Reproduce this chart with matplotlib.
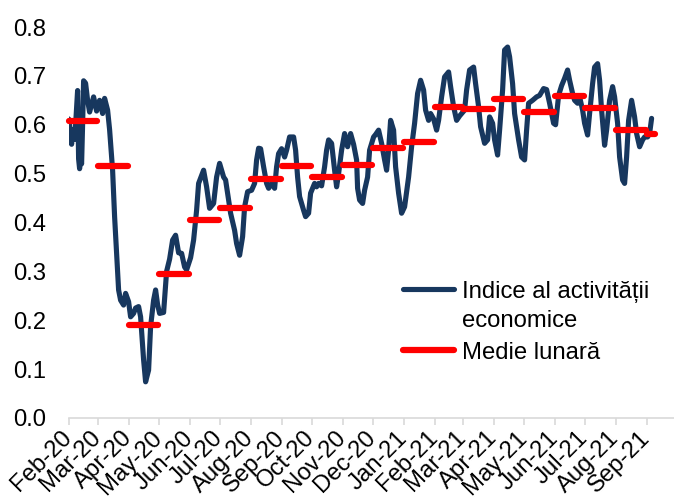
import matplotlib
matplotlib.use("Agg")
import matplotlib.pyplot as plt
import pandas as pd
from matplotlib.legend_handler import HandlerLine2D

plt.rcParams['font.family'] = ['Liberation Sans', 'DejaVu Sans']

# ---- data ----
start_date = "2020-02-01"
day_offsets = [0, 1, 3, 4, 6, 7, 9, 10, 11, 12, 13, 14, 15, 17, 19, 21, 25, 28, 31, 34,
               36, 39, 41, 44, 46, 48, 50, 52, 55, 57, 60, 62, 65, 67, 70, 72, 75, 77, 80, 82,
               85, 87, 89, 91, 95, 98, 101, 104, 107, 110, 113, 116, 118, 122, 125, 128, 130, 135, 138, 141,
               145, 148, 151, 155, 157, 160, 162, 166, 168, 171, 174, 176, 179, 183, 186, 188, 190, 192, 195, 198,
               200, 203, 206, 208, 210, 213, 216, 218, 221, 225, 227, 229, 231, 235, 237, 240, 242, 246, 248, 250,
               253, 256, 258, 260, 263, 266, 268, 270, 273, 276, 279, 282, 285, 288, 289, 291, 294, 296, 299, 301,
               305, 307, 310, 313, 316, 318, 320, 322, 325, 327, 330, 333, 336, 340, 343, 346, 349, 352, 355, 357,
               360, 362, 365, 368, 370, 373, 376, 380, 382, 385, 388, 391, 396, 398, 401, 405, 407, 410, 412, 416,
               419, 421, 424, 426, 429, 431, 434, 436, 439, 441, 444, 446, 450, 453, 456, 458, 460, 464, 468, 471,
               475, 478, 481, 485, 487, 490, 493, 496, 499, 501, 504, 506, 509, 511, 514, 516, 519, 521, 524, 526,
               529, 531, 533, 536, 538, 541, 544, 546, 549, 551, 554, 556, 558, 560, 563, 566, 568, 571, 574, 576,
               579, 581, 583]
activity = [0.612, 0.600, 0.560, 0.590, 0.570, 0.600, 0.670, 0.530, 0.510, 0.530, 0.520, 0.600, 0.690, 0.685, 0.650, 0.626, 0.657, 0.628, 0.650, 0.623,
            0.654, 0.630, 0.590, 0.507, 0.412, 0.337, 0.262, 0.241, 0.231, 0.255, 0.238, 0.207, 0.214, 0.225, 0.228, 0.207, 0.119, 0.074, 0.098, 0.187,
            0.241, 0.262, 0.232, 0.214, 0.216, 0.300, 0.325, 0.364, 0.374, 0.338, 0.337, 0.309, 0.303, 0.328, 0.364, 0.425, 0.480, 0.507, 0.473, 0.429,
            0.439, 0.493, 0.521, 0.493, 0.487, 0.446, 0.419, 0.384, 0.357, 0.333, 0.371, 0.432, 0.463, 0.466, 0.480, 0.528, 0.552, 0.551, 0.514, 0.480,
            0.470, 0.480, 0.470, 0.514, 0.541, 0.551, 0.534, 0.548, 0.575, 0.575, 0.548, 0.493, 0.453, 0.425, 0.412, 0.419, 0.460, 0.480, 0.473, 0.480,
            0.475, 0.514, 0.548, 0.569, 0.562, 0.507, 0.473, 0.500, 0.548, 0.582, 0.555, 0.582, 0.560, 0.528, 0.470, 0.446, 0.439, 0.466, 0.493, 0.548,
            0.575, 0.580, 0.589, 0.562, 0.528, 0.507, 0.548, 0.609, 0.589, 0.514, 0.460, 0.419, 0.432, 0.493, 0.555, 0.603, 0.664, 0.691, 0.671, 0.630,
            0.609, 0.623, 0.612, 0.589, 0.609, 0.657, 0.698, 0.708, 0.678, 0.637, 0.609, 0.618, 0.630, 0.671, 0.712, 0.718, 0.684, 0.637, 0.596, 0.562,
            0.569, 0.616, 0.603, 0.569, 0.538, 0.589, 0.671, 0.753, 0.759, 0.739, 0.684, 0.623, 0.569, 0.534, 0.528, 0.589, 0.644, 0.650, 0.657, 0.660,
            0.674, 0.672, 0.644, 0.603, 0.600, 0.660, 0.680, 0.695, 0.712, 0.691, 0.664, 0.650, 0.644, 0.657, 0.630, 0.603, 0.579, 0.623, 0.684, 0.718,
            0.725, 0.691, 0.630, 0.558, 0.589, 0.650, 0.678, 0.657, 0.603, 0.534, 0.487, 0.480, 0.534, 0.609, 0.650, 0.616, 0.582, 0.555, 0.569, 0.575,
            0.575, 0.582, 0.613]

month_labels = ['Feb-20', 'Mar-20', 'Apr-20', 'May-20', 'Jun-20', 'Jul-20', 'Aug-20', 'Sep-20',
                'Oct-20', 'Nov-20', 'Dec-20', 'Jan-21', 'Feb-21', 'Mar-21', 'Apr-21', 'May-21',
                'Jun-21', 'Jul-21', 'Aug-21', 'Sep-21']
monthly_mean = [0.607, 0.515, 0.190, 0.294, 0.405, 0.429, 0.489, 0.515, 0.493, 0.518,
                0.553, 0.565, 0.637, 0.633, 0.652, 0.627, 0.658, 0.635, 0.589, 0.582]
mean_last_date = "2021-09-09"
axis_end = "2021-10-01"

y_ticks = [0.0, 0.1, 0.2, 0.3, 0.4, 0.5, 0.6, 0.7, 0.8]
label_line = "Indice al activității\neconomice"
label_mean = "Medie lunară"

FS = 17.2


class HandlerFirstLine(HandlerLine2D):
    """Align the legend line with the first text line of a two-line label."""
    def __init__(self, shift, **kw):
        super().__init__(**kw)
        self.shift = shift

    def create_artists(self, legend, orig_handle, xdescent, ydescent, width,
                       height, fontsize, trans):
        arts = super().create_artists(legend, orig_handle, xdescent, ydescent,
                                      width, height, fontsize, trans)
        for a in arts:
            y = a.get_ydata()
            a.set_ydata([yy + self.shift for yy in y])
        return arts


# ---- figure ----
W, H = 674, 501
fig = plt.figure(figsize=(W / 100, H / 100), dpi=100)
left_px, right_px, top_px, bottom_px = 68.6, 676.6, 27, 418
ax = fig.add_axes([left_px / W, 1 - bottom_px / H, (right_px - left_px) / W, (bottom_px - top_px) / H])

base = pd.Timestamp(start_date)
dates = base + pd.to_timedelta(day_offsets, unit='D')
navy = '#17375E'
red = '#FF0000'

ln, = ax.plot(dates, activity, color=navy, lw=3.7, solid_joinstyle='round',
              solid_capstyle='round', label=label_line, zorder=2)

month_starts = pd.date_range(start_date, periods=len(month_labels), freq='MS')
last = pd.Timestamp(mean_last_date)
seg_handle = None
for i, (ms, v) in enumerate(zip(month_starts, monthly_mean)):
    me = ms + pd.offsets.MonthEnd(0)
    if i == len(month_starts) - 1:
        me = last
    seg, = ax.plot([ms, me], [v, v], color=red, lw=4.5, solid_capstyle='round',
                   zorder=3, clip_on=False)
    if seg_handle is None:
        seg_handle = seg

ax.set_xlim(base, pd.Timestamp(axis_end))
ax.set_ylim(0, 0.8)
ax.set_yticks(y_ticks)
ax.set_yticklabels([f"{t:.1f}" for t in y_ticks])
ax.set_xticks(month_starts)
ax.set_xticklabels(month_labels, rotation=45, ha='right', va='center',
                   rotation_mode='anchor')

for s in ['left', 'right', 'top']:
    ax.spines[s].set_visible(False)
ax.spines['bottom'].set_color('#D9D9D9')
ax.spines['bottom'].set_linewidth(1.2)
ax.tick_params(axis='y', length=0, pad=16, labelsize=FS, colors='black')
ax.tick_params(axis='x', length=5, width=1.2, color='#D9D9D9', pad=7,
               labelsize=FS, labelcolor='black')

leg = ax.legend(handles=[ln, seg_handle], labels=[label_line, label_mean],
                loc='upper left', bbox_to_anchor=(0.535, 0.376),
                frameon=False, fontsize=FS, handlelength=2.1, handletextpad=0.35,
                labelspacing=0.42, borderaxespad=0,
                handler_map={ln: HandlerFirstLine(shift=12.6)})
for t in leg.get_texts():
    t.set_linespacing(1.42)

fig.savefig('out.png', dpi=100)
